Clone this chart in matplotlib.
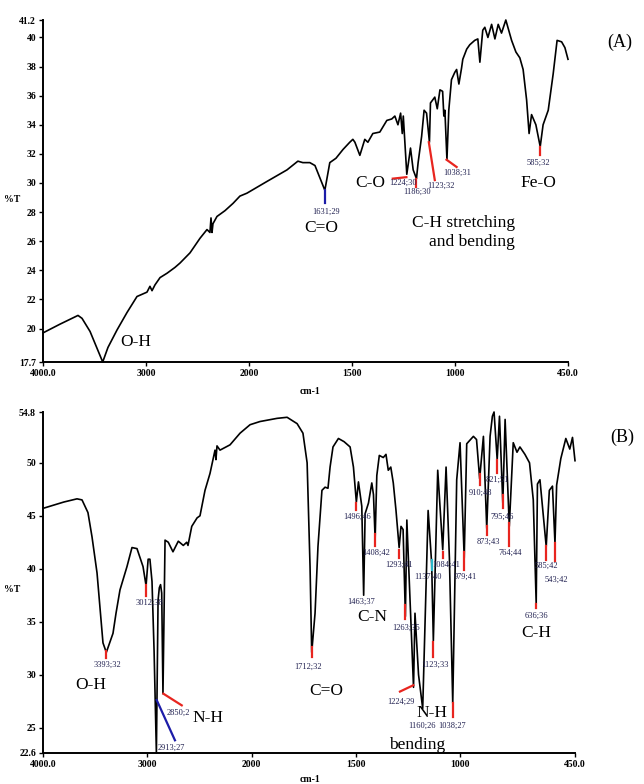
#FTIR spectra, two panels (A) and (B)
import numpy as np
import matplotlib
matplotlib.use("Agg")
from matplotlib import pyplot as plt

plt.rcParams['font.family'] = ['Liberation Serif', 'DejaVu Serif']

# spectrum A  (wavenumber cm-1, %T)
a_wn = [4000, 3835, 3660, 3621, 3543, 3420, 3369, 3281, 3184, 3087, 2990, 2961, 2941, 2912,
        2863, 2795, 2718, 2669, 2572, 2475, 2407, 2378, 2368, 2358, 2349, 2310, 2232, 2154,
        2087, 2019, 1913, 1864, 1815, 1762, 1738, 1704, 1679, 1631, 1607, 1577, 1543, 1510,
        1495, 1485, 1461, 1437, 1422, 1398, 1364, 1330, 1306, 1291, 1276, 1263, 1255, 1250,
        1233, 1215, 1202, 1186, 1178, 1161, 1149, 1137, 1123, 1118, 1097, 1085, 1072, 1059,
        1053, 1048, 1038, 1029, 1016, 1000, 991, 980, 967, 961, 942, 927, 903, 888, 878, 864,
        854, 839, 821, 805, 789, 773, 752, 724, 703, 684, 668, 651, 639, 627, 606, 585, 571,
        546, 522, 503, 481, 465, 450]
a_t = [19.7, 20.3, 20.9, 20.7, 19.8, 17.7, 18.7, 19.9, 21.1, 22.2, 22.5, 22.9, 22.6, 23.0,
       23.5, 23.8, 24.2, 24.5, 25.2, 26.2, 26.8, 26.6, 27.6, 26.6, 27.2, 27.7, 28.1, 28.6,
       29.1, 29.3, 30.1, 30.5, 30.9, 31.5, 31.4, 31.4, 31.2, 29.5, 31.4, 31.7, 32.3, 32.8,
       33.0, 32.8, 31.9, 33.0, 32.8, 33.4, 33.5, 34.3, 34.4, 34.6, 34.0, 34.8, 33.4, 34.6,
       30.6, 32.4, 30.9, 30.3, 31.4, 33.2, 35.0, 34.8, 32.8, 35.5, 35.9, 35.1, 36.4, 36.3,
       34.6, 35.0, 31.6, 35.0, 37.1, 37.6, 37.8, 36.8, 37.9, 38.5, 39.2, 39.5, 39.8, 39.9,
       38.3, 40.5, 40.7, 40.0, 40.9, 39.9, 40.9, 40.3, 41.2, 39.8, 39.0, 38.6, 37.8, 35.7,
       33.4, 34.7, 34.0, 32.5, 34.0, 35.0, 37.5, 39.8, 39.7, 39.3, 38.5]

# spectrum B
b_wn = [4000, 3900, 3800, 3674, 3626, 3569, 3530, 3482, 3425, 3393, 3329, 3300, 3262, 3195,
        3147, 3099, 3041, 3012, 2992, 2975, 2955, 2935, 2913, 2897, 2885, 2873, 2862, 2850,
        2830, 2799, 2754, 2703, 2655, 2622, 2610, 2574, 2523, 2495, 2447, 2399, 2351, 2342,
        2332, 2303, 2207, 2111, 2015, 1960, 1878, 1830, 1782, 1754, 1734, 1720, 1712, 1696,
        1682, 1663, 1648, 1634, 1624, 1610, 1584, 1557, 1528, 1512, 1498, 1488, 1472, 1463,
        1456, 1440, 1424, 1416, 1408, 1400, 1388, 1369, 1356, 1345, 1333, 1321, 1308, 1293,
        1284, 1274, 1263, 1256, 1224, 1217, 1200, 1180, 1154, 1137, 1129, 1108, 1084, 1068,
        1052, 1036, 1017, 1001, 981, 969, 937, 922, 907, 889, 873, 857, 846, 838, 823, 812,
        796, 785, 765, 746, 728, 714, 690, 668, 650, 636, 630, 618, 588, 573, 558, 546, 538,
        518, 494, 475, 462, 450]
b_t = [45.7, 46.0, 46.3, 46.6, 46.5, 45.3, 43.0, 39.6, 33.0, 32.1, 33.9, 35.8, 38.0, 40.2,
       42.0, 41.9, 40.2, 38.4, 40.9, 40.9, 38.8, 32.2, 22.6, 37.0, 38.2, 38.5, 37.7, 28.2,
       42.7, 42.5, 41.6, 42.6, 42.2, 42.5, 42.2, 44.0, 44.8, 45.0, 47.4, 49.0, 51.2, 50.3,
       51.6, 51.2, 51.7, 52.8, 53.6, 53.9, 54.2, 54.3, 53.7, 52.8, 50.0, 40.2, 32.1, 35.8,
       42.1, 47.4, 47.7, 47.6, 49.6, 51.5, 52.3, 52.0, 51.5, 49.6, 46.3, 48.2, 45.9, 37.5,
       45.2, 46.2, 48.1, 47.0, 42.8, 48.8, 50.7, 50.5, 50.8, 49.3, 49.6, 48.1, 45.5, 42.0,
       44.0, 43.7, 35.5, 44.6, 28.8, 35.8, 30.0, 26.8, 45.5, 40.5, 33.2, 49.3, 41.8, 49.6,
       41.0, 27.3, 48.4, 51.9, 41.0, 51.8, 52.5, 52.2, 48.5, 52.5, 43.8, 52.5, 54.4, 54.8,
       50.3, 54.4, 46.2, 54.1, 44.0, 51.9, 51.0, 51.5, 50.8, 50.0, 46.5, 36.7, 48.0, 48.4,
       42.1, 47.4, 47.8, 42.4, 47.9, 50.4, 52.3, 51.3, 52.4, 50.2]

x_ticks = [4000, 3000, 2000, 1500, 1000, 450]
x_ticklabels = ['4000.0', '3000', '2000', '1500', '1000', '450.0']
a_yticks = [17.7, 20, 22, 24, 26, 28, 30, 32, 34, 36, 38, 40, 41.2]
b_yticks = [22.6, 25, 30, 35, 40, 45, 50, 54.8]

# peak labels: text, wavenumber, %T
a_peaks = [('1631;29', 1626, 28.0), ('1224;30', 1318, 30.0, 'left'), ('1186;30', 1184, 29.4),
           ('1123;32', 1067, 29.8), ('1038;31', 990, 30.7), ('585;32', 592, 31.4)]
a_marks = [(1631, 29.5, 1631, 28.6, 'b'), (1301, 30.3, 1235, 30.4, 'r'),
           (1186, 30.3, 1186, 29.7, 'r'), (1126, 32.8, 1097, 30.2, 'r'),
           (1040, 31.6, 991, 31.1, 'r'), (587, 32.5, 587, 31.9, 'r')]
a_groups = [('O-H', 3250, 19.1, 'left'), ('C=O', 1650, 26.9, 'center'),
            ('Fe-O', 592, 30.0, 'center'),
            ('C-H stretching\nand bending', 708, 26.6, 'right'), ('C-O', 1410, 30.0, 'center')]

b_peaks = [('3393;32', 3386, 30.9), ('3012;38', 2984, 36.8), ('2850;2', 2811, 26.4, 'left'),
           ('2913;27', 2898, 23.1, 'left'), ('1712;32', 1730, 30.7), ('1496;46', 1495, 44.9),
           ('1408;42', 1402, 41.5), ('1463;37', 1475, 36.9), ('1293;41', 1293, 40.4),
           ('1263;35', 1260, 34.4), ('1123;33', 1120, 30.9), ('1224;29', 1283, 27.4),
           ('1160;26', 1182, 25.2), ('1038;27', 1039, 25.2), ('1137;40', 1154, 39.2),
           ('1084;41', 1068, 40.4), ('979;41', 977, 39.2), ('910;48', 904, 47.2),
           ('821;51', 823, 48.4), ('873;43', 866, 42.5), ('795;46', 798, 44.9),
           ('764;44', 760, 41.5), ('585;42', 587, 40.3), ('543;42', 539, 39.0),
           ('636;36', 636, 35.6)]
b_marks = [(3393, 32.2, 3393, 31.6, 'r'), (3012, 38.5, 3012, 37.4, 'r'),
           (2846, 28.2, 2670, 27.1, 'r'), (2910, 27.6, 2735, 23.8, 'b'),
           (1712, 32.6, 1712, 31.7, 'r'), (1500, 46.2, 1500, 45.5, 'r'),
           (1408, 43.3, 1408, 42.1, 'r'), (1293, 41.8, 1293, 41.0, 'r'),
           (1265, 36.6, 1265, 35.3, 'r'), (1129, 33.1, 1129, 31.7, 'r'),
           (1289, 28.4, 1225, 29.0, 'r'), (1033, 27.3, 1033, 26.0, 'r'),
           (1137, 40.8, 1137, 39.9, 'c'), (1081, 41.6, 1081, 41.0, 'r'),
           (981, 41.6, 981, 39.9, 'r'), (907, 48.9, 907, 47.9, 'r'),
           (825, 50.3, 825, 49.0, 'r'), (873, 44.0, 873, 43.2, 'r'),
           (796, 47.0, 796, 45.7, 'r'), (765, 44.3, 765, 42.1, 'r'),
           (588, 42.1, 588, 40.8, 'r'), (546, 42.4, 546, 40.7, 'r'),
           (636, 36.7, 636, 36.3, 'r')]
b_groups = [('O-H', 3540, 29.0, 'center'), ('N-H', 2571, 25.9, 'left'),
            ('C=O', 1643, 28.5, 'center'), ('C-N', 1422, 35.4, 'center'),
            ('N-H', 1134, 26.4, 'center'), ('bending', 1206, 23.4, 'center'),
            ('C-H', 636, 33.9, 'center')]

colors = {'r': '#e8251f', 'b': '#1c1ca8', 'c': '#29b6c8'}


# below 2000 cm-1 the axis is stretched 2x
def fwd(w):
    w = np.asarray(w, dtype=float)
    return np.where(w >= 2000, w, 2 * w - 2000)


def inv(u):
    u = np.asarray(u, dtype=float)
    return np.where(u >= 2000, u, (u + 2000) / 2)


def draw_panel(ax, wn, t, yticks, peaks, marks, groups):
    ax.set_xscale('function', functions=(fwd, inv))
    ax.plot(wn, t, color='black', lw=1.2, clip_on=False)
    ax.set_xlim(4000, 450)
    ax.set_ylim(yticks[0], yticks[-1])
    ax.set_xticks(x_ticks)
    ax.set_xticklabels(x_ticklabels)
    ax.set_yticks(yticks)
    ax.set_yticklabels([('%g' % v) for v in yticks])
    ax.minorticks_off()
    for s in ['top', 'right']:
        ax.spines[s].set_visible(False)
    for s in ['left', 'bottom']:
        ax.spines[s].set_linewidth(1.4)
    ax.tick_params(direction='out', length=3, width=1, labelsize=7, pad=2)
    for lab in ax.get_xticklabels() + ax.get_yticklabels():
        lab.set_fontweight('bold')
    for w0, v0, w1, v1, c in marks:
        ax.plot([w0, w1], [v0, v1], color=colors[c], lw=1.6)
    for p in peaks:
        ha = p[3] if len(p) > 3 else 'center'
        ax.text(p[1], p[2], p[0], fontsize=6, color='#202050', ha=ha, va='center')
    for txt, w, v, ha in groups:
        ax.text(w, v, txt, fontsize=12.5, ha=ha, va='center', multialignment='right',
                linespacing=1.25)


fig = plt.figure(figsize=(6.44, 7.84), dpi=100)
ax1 = fig.add_axes([43 / 644, 1 - 362 / 784, 525 / 644, 342 / 784])
ax2 = fig.add_axes([43 / 644, 1 - 753 / 784, 532 / 644, 341 / 784])

draw_panel(ax1, a_wn, a_t, a_yticks, a_peaks, a_marks, a_groups)
draw_panel(ax2, b_wn, b_t, b_yticks, b_peaks, b_marks, b_groups)

fig.text(620 / 644, 1 - 42 / 784, '(A)', fontsize=13, ha='center', va='center')
fig.text(622 / 644, 1 - 437 / 784, '(B)', fontsize=13, ha='center', va='center')
for yy in [200, 590]:
    fig.text(12 / 644, 1 - yy / 784, '%T', fontsize=7, fontweight='bold', ha='center', va='center')
for yy in [391, 779]:
    fig.text(310 / 644, 1 - yy / 784, 'cm-1', fontsize=7, fontweight='bold', ha='center', va='center')

plt.savefig('out.png', dpi=100)
